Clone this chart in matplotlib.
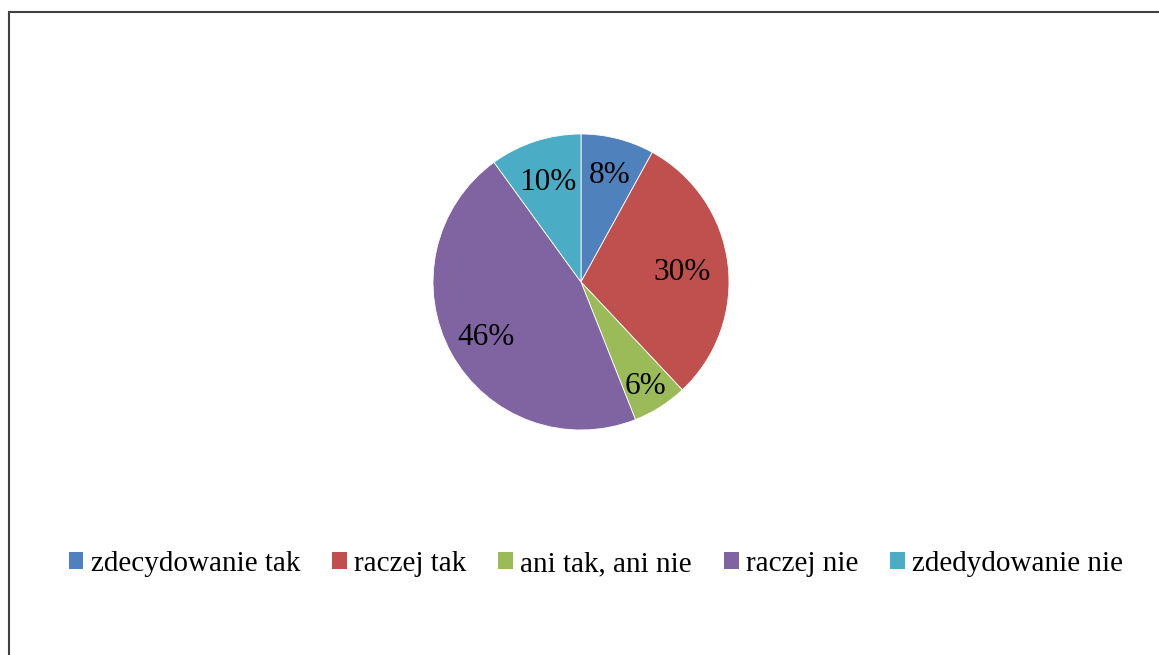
import numpy as np
import matplotlib
matplotlib.use('Agg')
import matplotlib.pyplot as plt
from matplotlib.patches import Rectangle, Patch

plt.rcParams['font.family'] = ['Liberation Serif', 'DejaVu Serif']

categories = ['zdecydowanie tak', 'raczej tak', 'ani tak, ani nie', 'raczej nie', 'zdedydowanie nie']
values = [8, 30, 6, 46, 10]
colors = ['#4F81BD', '#C0504D', '#9BBB59', '#8064A2', '#4BACC6']
# label distance from centre (fraction of radius), like Excel's best fit
label_dist = [0.77, 0.69, 0.81, 0.73, 0.73]

W, H = 1159, 655
fig = plt.figure(figsize=(W / 100, H / 100), dpi=100)

# frame (only left and top visible in the original crop)
fig.patches.append(Rectangle((9 / W, -0.1), 1.2, (H - 11.5) / H + 0.1,
                             transform=fig.transFigure, fill=False,
                             edgecolor='#404040', linewidth=1.5))

cx, cy, r = 581, 282, 148
ax = fig.add_axes([(cx - r) / W, (H - cy - r) / H, 2 * r / W, 2 * r / H])
wedges, texts, autotexts = ax.pie(values, colors=colors, startangle=90, counterclock=False,
                                  autopct='%1.0f%%', pctdistance=0.74,
                                  wedgeprops=dict(edgecolor='white', linewidth=0.6),
                                  textprops=dict(fontsize=22.5, color='black'))
for w, t, d in zip(wedges, autotexts, label_dist):
    ang = np.deg2rad((w.theta1 + w.theta2) / 2)
    t.set_position((d * np.cos(ang), d * np.sin(ang)))
    t.set_va('center_baseline')
ax.set_xlim(-1, 1)
ax.set_ylim(-1, 1)
ax.set_aspect('equal')

handles = [Patch(facecolor=c, edgecolor='none') for c in colors]
fig.legend(handles, categories, loc='center', bbox_to_anchor=(596 / W, 1 - 564 / H),
           ncol=5, frameon=False, fontsize=21, handlelength=0.5, handleheight=0.5,
           handletextpad=0.25, columnspacing=1.1)

fig.savefig('out.png', dpi=100, facecolor='white')
